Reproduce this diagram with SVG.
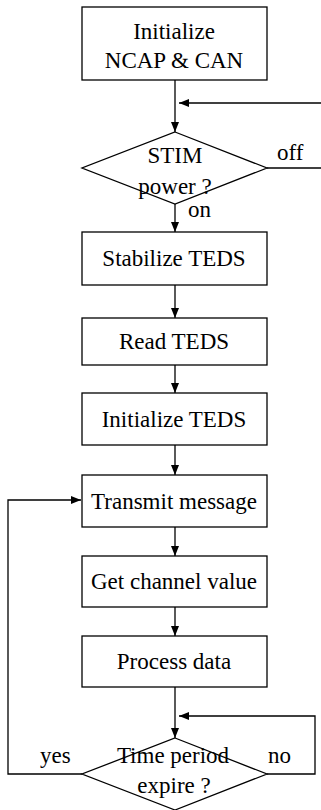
<svg xmlns="http://www.w3.org/2000/svg" width="321" height="810" viewBox="0 0 321 810">
<style>
.box{fill:#fff;stroke:#000;stroke-width:1.3}
text{font-family:'Liberation Serif','DejaVu Serif',serif;font-size:23px;fill:#000}
.t{text-anchor:middle}
.c{fill:none;stroke:#000;stroke-width:1.3}
</style>
<defs>
<marker id="ah" markerWidth="10" markerHeight="8" refX="10" refY="4" orient="auto" markerUnits="userSpaceOnUse">
<path d="M0,0 L10,4 L0,8 Z" fill="#000"/>
</marker>
</defs>
<rect width="321" height="810" fill="#fff"/>
<g id="connectors">
<path class="c" d="M175,80 V132" marker-end="url(#ah)"/>
<path class="c" d="M321,103 H179" marker-end="url(#ah)"/>
<path class="c" d="M267,168 H321"/>
<path class="c" d="M175,204 V232" marker-end="url(#ah)"/>
<path class="c" d="M175,285 V318" marker-end="url(#ah)"/>
<path class="c" d="M175,365 V393" marker-end="url(#ah)"/>
<path class="c" d="M175,445 V475" marker-end="url(#ah)"/>
<path class="c" d="M175,527 V556" marker-end="url(#ah)"/>
<path class="c" d="M175,607 V636" marker-end="url(#ah)"/>
<path class="c" d="M175,687 V738" marker-end="url(#ah)"/>
<path class="c" d="M267,774 H315 V716 H179" marker-end="url(#ah)"/>
<path class="c" d="M82,774 H8 V500 H81" marker-end="url(#ah)"/>
</g>
<g id="init-ncap">
<rect class="box" x="82" y="7" width="185" height="73"/>
<text class="t" x="174" y="39">Initialize</text>
<text class="t" x="174" y="68">NCAP &amp; CAN</text>
</g>
<g id="stim-power">
<polygon class="box" points="175,132 267,168 175,204 82,168"/>
<text class="t" x="175" y="163">STIM</text>
<text class="t" x="175" y="194">power ?</text>
<text x="277" y="160">off</text>
<text x="188" y="217">on</text>
</g>
<g id="stabilize-teds">
<rect class="box" x="82" y="232" width="185" height="53"/>
<text class="t" x="174" y="266">Stabilize TEDS</text>
</g>
<g id="read-teds">
<rect class="box" x="82" y="318" width="185" height="47"/>
<text class="t" x="174" y="349">Read TEDS</text>
</g>
<g id="init-teds">
<rect class="box" x="82" y="393" width="185" height="52"/>
<text class="t" x="174" y="427">Initialize TEDS</text>
</g>
<g id="transmit">
<rect class="box" x="82" y="475" width="185" height="52"/>
<text class="t" x="174" y="509">Transmit message</text>
</g>
<g id="get-channel">
<rect class="box" x="82" y="556" width="185" height="51"/>
<text class="t" x="174" y="589">Get channel value</text>
</g>
<g id="process">
<rect class="box" x="82" y="636" width="185" height="51"/>
<text class="t" x="174" y="669">Process data</text>
</g>
<g id="time-period">
<polygon class="box" points="175,738 267,774 175,810 82,774"/>
<text class="t" x="173" y="763">Time period</text>
<text class="t" x="174" y="793">expire ?</text>
<text x="40" y="763">yes</text>
<text x="268" y="763">no</text>
</g>
</svg>
